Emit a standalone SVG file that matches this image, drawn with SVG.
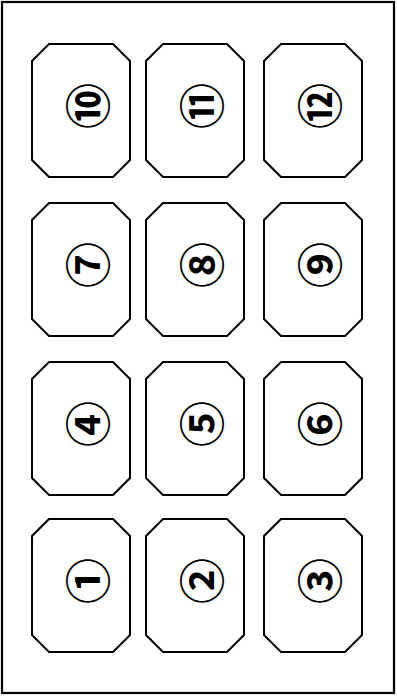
<svg xmlns="http://www.w3.org/2000/svg" width="397" height="696" viewBox="0 0 397 696">
<style>
.frame{fill:#fff;stroke:#000;stroke-width:2.2}
.key{fill:#fff;stroke:#000;stroke-width:2;stroke-linejoin:miter}
.num{font-family:"Noto Sans CJK JP","DejaVu Sans",sans-serif;font-size:46px;font-weight:bold;text-anchor:middle;dominant-baseline:central;fill:#000}
</style>
<defs>
<path id="oct" d="M17,0 H81 L98,17 V116 L81,133 H17 L0,116 V17 Z"/>
</defs>
<rect class="frame" x="2" y="2" width="392" height="691"/>
<g id="connectors"/>
<g id="key10"><use href="#oct" class="key" x="32" y="44"/><text class="num" transform="translate(84.5,106) rotate(-90)">⑩</text></g>
<g id="key11"><use href="#oct" class="key" x="146" y="44"/><text class="num" transform="translate(199,106) rotate(-90)">⑪</text></g>
<g id="key12"><use href="#oct" class="key" x="264" y="44"/><text class="num" transform="translate(316.5,106) rotate(-90)">⑫</text></g>
<g id="key7"><use href="#oct" class="key" x="32" y="203"/><text class="num" transform="translate(84.5,265) rotate(-90)">⑦</text></g>
<g id="key8"><use href="#oct" class="key" x="146" y="203"/><text class="num" transform="translate(199,265) rotate(-90)">⑧</text></g>
<g id="key9"><use href="#oct" class="key" x="264" y="203"/><text class="num" transform="translate(316.5,265) rotate(-90)">⑨</text></g>
<g id="key4"><use href="#oct" class="key" x="32" y="362"/><text class="num" transform="translate(84.5,424) rotate(-90)">④</text></g>
<g id="key5"><use href="#oct" class="key" x="146" y="362"/><text class="num" transform="translate(199,424) rotate(-90)">⑤</text></g>
<g id="key6"><use href="#oct" class="key" x="264" y="362"/><text class="num" transform="translate(316.5,424) rotate(-90)">⑥</text></g>
<g id="key1"><use href="#oct" class="key" x="32" y="519"/><text class="num" transform="translate(84.5,581) rotate(-90)">①</text></g>
<g id="key2"><use href="#oct" class="key" x="146" y="519"/><text class="num" transform="translate(199,581) rotate(-90)">②</text></g>
<g id="key3"><use href="#oct" class="key" x="264" y="519"/><text class="num" transform="translate(316.5,581) rotate(-90)">③</text></g>
</svg>
